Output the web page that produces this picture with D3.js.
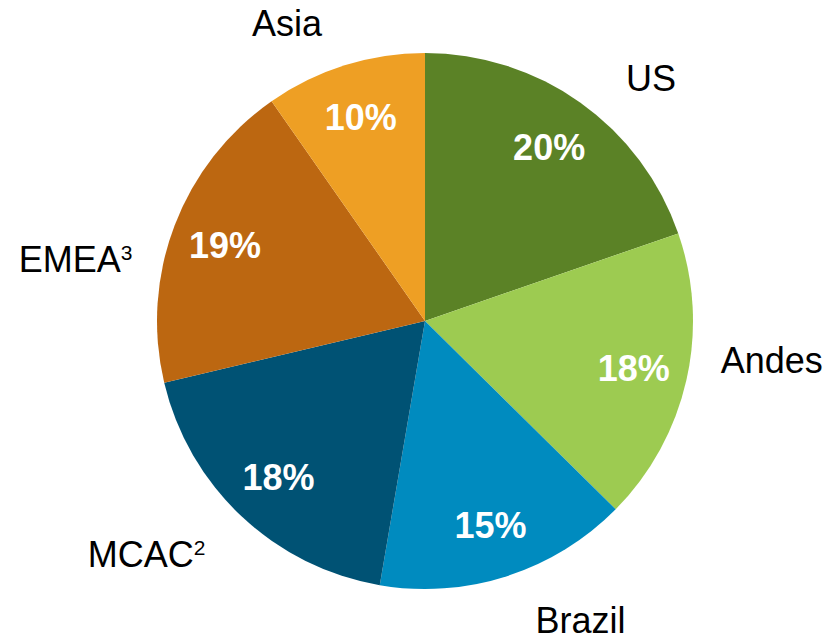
<!DOCTYPE html>
<html>
<head>
<meta charset="utf-8">
<script src="https://cdn.jsdelivr.net/npm/d3@7/dist/d3.min.js"></script>
<style>
  html, body { margin: 0; padding: 0; background: #fff; }
  svg { display: block; font-family: "Liberation Sans", Arial, sans-serif; }
</style>
</head>
<body>
<svg id="chart" width="838" height="638"></svg>
<script>
// ---- data ----
const categories = ["US", "Andes", "Brazil", "MCAC", "EMEA", "Asia"];
const superscripts = ["", "", "", "2", "3", ""];
const shares = [19.7, 17.7, 15.3, 18.6, 19.0, 9.7];          // slice sizes
const shareLabels = ["20%", "18%", "15%", "18%", "19%", "10%"]; // printed labels
const colors = ["#5B8226", "#9DCB51", "#008BBF", "#005274", "#BC6711", "#EE9F24"];

// ---- layout ----
const W = 838, H = 638;
const cx = 425, cy = 321, R = 268;
const innerLabelR = 214;
// outer label anchors (polar: degrees clockwise from 12 o'clock, radius)
const outerLabelPolar = [[42.9, 332], [96.4, 349], [152.5, 337], [230.1, 363], [280.1, 355], [335.1, 328]];

const svg = d3.select("#chart");
const g = svg.append("g").attr("transform", `translate(${cx},${cy})`);

const data = categories.map((c, i) => ({ name: c, sup: superscripts[i], value: shares[i], label: shareLabels[i], color: colors[i], i }));

const pie = d3.pie().value(d => d.value).sort(null);
const arcs = pie(data);

const arc = d3.arc().innerRadius(0).outerRadius(R);
const labelArc = d3.arc().innerRadius(innerLabelR).outerRadius(innerLabelR);

g.selectAll("path.slice")
  .data(arcs)
  .join("path")
  .attr("class", "slice")
  .attr("d", arc)
  .attr("fill", d => d.data.color);

g.selectAll("text.pct")
  .data(arcs)
  .join("text")
  .attr("class", "pct")
  .attr("transform", d => `translate(${labelArc.centroid(d)})`)
  .attr("text-anchor", "middle")
  .attr("dy", "0.358em")
  .attr("fill", "#fff")
  .attr("font-weight", "bold")
  .attr("font-size", 36)
  .text(d => d.data.label);

const outer = g.selectAll("text.cat")
  .data(arcs)
  .join("text")
  .attr("class", "cat")
  .attr("transform", d => {
    const [deg, r] = outerLabelPolar[d.data.i];
    const a = deg * Math.PI / 180;
    return `translate(${r * Math.sin(a)},${-r * Math.cos(a)})`;
  })
  .attr("text-anchor", "middle")
  .attr("dy", "0.358em")
  .attr("fill", "#000")
  .attr("font-size", 36);

outer.append("tspan").text(d => d.data.name);
outer.filter(d => d.data.sup)
  .append("tspan")
  .attr("font-size", 21)
  .attr("dy", -12)
  .text(d => d.data.sup);
</script>
</body>
</html>
